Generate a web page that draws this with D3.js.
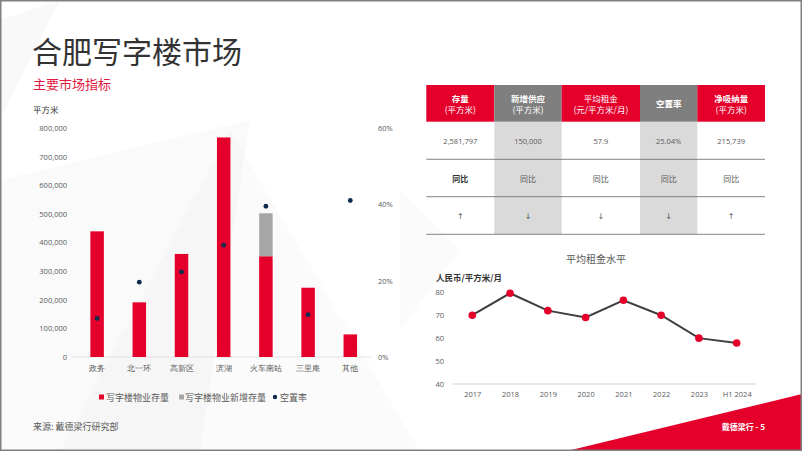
<!DOCTYPE html>
<html><head><meta charset="utf-8">
<script src="https://cdn.jsdelivr.net/npm/d3@7"></script>
<style>
html,body{margin:0;padding:0;background:#fff;}
svg{display:block;font-family:"Noto Sans CJK SC","Noto Sans",sans-serif;}
</style></head>
<body>
<svg id="c" width="802" height="451"></svg>
<script>
// ---- data ----
const districts = ["政务","北一环","高新区","滨湖","火车南站","三里庵","其他"];
const stock = [439000,191000,360000,767000,352000,242000,79000];
const newStock = [0,0,0,0,150000,0,0];
const vacancy = [0.101,0.196,0.223,0.293,0.395,0.111,0.410];
const leftTicks = [0,100000,200000,300000,400000,500000,600000,700000,800000];
const rightTicks = [0,0.2,0.4,0.6];
const legendLabels = ["写字楼物业存量","写字楼物业新增存量","空置率"];

const tableHeaders = [["存量","(平方米)"],["新增供应","(平方米)"],["平均租金","(元/平方米/月)"],["空置率",""],["净吸纳量","(平方米)"]];
const tableValues = ["2,581,797","150,000","57.9","25.04%","215,739"];
const tableYoY = ["同比","同比","同比","同比","同比"];
const tableArrows = ["↑","↓","↓","↓","↑"];

const years = ["2017","2018","2019","2020","2021","2022","2023","H1 2024"];
const rent = [70,79.6,72,69,76.5,70,60,57.9];
const rentTicks = [40,50,60,70,80];

// ---- drawing ----
const svg = d3.select("#c");
const RED = "#e4002b", GRAY = "#a6a6a6", NAVY = "#0d2b4e", TXT = "#595959";

// faint background shapes
const bg = svg.append("g");
bg.append("polygon").attr("points","0,180 250,120 200,451 0,451").attr("fill","#000").attr("opacity",0.02);
bg.append("polygon").attr("points","60,451 230,130 420,451").attr("fill","#000").attr("opacity",0.015);
bg.append("polygon").attr("points","0,20 60,0 0,120").attr("fill","#000").attr("opacity",0.025);
bg.append("polygon").attr("points","400,190 460,250 400,330").attr("fill","#000").attr("opacity",0.015);

// red corner triangle
svg.append("polygon").attr("points","567,451 802,394 802,451").attr("fill",RED);
svg.append("text").attr("x",765).attr("y",430).attr("text-anchor","end").attr("fill","#fff")
  .attr("font-size",8).attr("font-weight","bold").text("戴德梁行 - 5");

// titles
svg.append("text").attr("x",32).attr("y",63).attr("font-size",30).attr("fill","#333").text("合肥写字楼市场");
svg.append("text").attr("x",33).attr("y",89).attr("font-size",13).attr("fill","#e0163e").text("主要市场指标");
svg.append("text").attr("x",33).attr("y",113).attr("font-size",8.5).attr("fill","#333").text("平方米");
svg.append("text").attr("x",33).attr("y",430).attr("font-size",9).attr("fill",TXT).text("来源: 戴德梁行研究部");

// ---- left bar chart ----
const x = d3.scaleBand().domain(districts).range([76,371.4]).padding(0);
const y = d3.scaleLinear().domain([0,800000]).range([357,128]);
const yr = d3.scaleLinear().domain([0,0.6]).range([357,128]);
const bw = 13.5;

svg.append("line").attr("x1",73).attr("x2",372).attr("y1",y(0)).attr("y2",y(0)).attr("stroke","#e2e2e2").attr("stroke-width",1);

const axL = d3.axisLeft(y).tickValues(leftTicks).tickFormat(d3.format(",")).tickSize(0).tickPadding(0);
const gL = svg.append("g").attr("transform","translate(67,0)").call(axL);
gL.select(".domain").remove();
gL.selectAll("text").attr("font-size",7.5).attr("fill",TXT).attr("font-family","'Open Sans','Noto Sans',sans-serif");

const axR = d3.axisRight(yr).tickValues(rightTicks).tickFormat(d3.format(".0%")).tickSize(0).tickPadding(0);
const gR = svg.append("g").attr("transform","translate(378,0)").call(axR);
gR.select(".domain").remove();
gR.selectAll("text").attr("font-size",7.5).attr("fill",TXT).attr("font-family","'Open Sans','Noto Sans',sans-serif");

const cx = d => x(d) + x.bandwidth()/2;
svg.append("g").selectAll("rect").data(districts).join("rect")
  .attr("x",(d)=>cx(d)-bw/2).attr("width",bw)
  .attr("y",(d,i)=>y(stock[i])).attr("height",(d,i)=>y(0)-y(stock[i])).attr("fill",RED);
svg.append("g").selectAll("rect").data(districts.filter((d,i)=>newStock[i]>0)).join("rect")
  .attr("x",(d)=>cx(d)-bw/2).attr("width",bw)
  .attr("y",(d)=>{const i=districts.indexOf(d);return y(stock[i]+newStock[i]);})
  .attr("height",(d)=>{const i=districts.indexOf(d);return y(stock[i])-y(stock[i]+newStock[i]);})
  .attr("fill",GRAY);
svg.append("g").selectAll("circle").data(districts).join("circle")
  .attr("cx",cx).attr("cy",(d,i)=>yr(vacancy[i])).attr("r",2.4).attr("fill",NAVY);

const axB = d3.axisBottom(x).tickSize(0).tickPadding(0);
const gB = svg.append("g").attr("transform","translate(0,365)").call(axB);
gB.select(".domain").remove();
gB.selectAll("text").attr("font-size",8).attr("fill",TXT);

// legend
const lg = svg.append("g");
lg.append("rect").attr("x",99).attr("y",394.5).attr("width",5).attr("height",5).attr("fill",RED);
lg.append("text").attr("x",106).attr("y",400.5).attr("font-size",9).attr("fill",TXT).text(legendLabels[0]);
lg.append("rect").attr("x",179).attr("y",394.5).attr("width",5).attr("height",5).attr("fill",GRAY);
lg.append("text").attr("x",185).attr("y",400.5).attr("font-size",9).attr("fill",TXT).text(legendLabels[1]);
lg.append("circle").attr("cx",275).attr("cy",397).attr("r",2.2).attr("fill",NAVY);
lg.append("text").attr("x",280).attr("y",400.5).attr("font-size",9).attr("fill",TXT).text(legendLabels[2]);

// ---- table ----
const colEdges = [426.3,494.3,561.7,640,697.3,765];
const tg = svg.append("g");
const hdrTop = 85, hdrBot = 121.7, tblBot = 234.3;
tableHeaders.forEach((h,i)=>{
  const x0 = colEdges[i], x1 = colEdges[i+1], mid=(x0+x1)/2;
  const isGray = i%2===1;
  if (isGray) tg.append("rect").attr("x",x0).attr("y",hdrBot).attr("width",x1-x0).attr("height",tblBot-hdrBot).attr("fill","#dadada");
  tg.append("rect").attr("x",x0).attr("y",hdrTop).attr("width",x1-x0).attr("height",hdrBot-hdrTop).attr("fill",isGray?"#7f7f7f":RED);
  if (h[1]) {
    tg.append("text").attr("x",mid).attr("y",102).attr("text-anchor","middle").attr("font-size",8.5)
      .attr("font-weight",i===2?"normal":"bold").attr("fill","#fff").text(h[0]);
    tg.append("text").attr("x",mid).attr("y",112.5).attr("text-anchor","middle").attr("font-size",8.5).attr("fill","#fff").text(h[1]);
  } else {
    tg.append("text").attr("x",mid).attr("y",107).attr("text-anchor","middle").attr("font-size",8.5)
      .attr("font-weight","bold").attr("fill","#fff").text(h[0]);
  }
  tg.append("text").attr("x",mid).attr("y",144).attr("text-anchor","middle").attr("font-size",7.5).attr("fill",TXT)
    .attr("font-family","'Open Sans','Noto Sans',sans-serif").text(tableValues[i]);
  tg.append("text").attr("x",mid).attr("y",181.5).attr("text-anchor","middle").attr("font-size",8)
    .attr("font-weight",i===0?"bold":"normal").attr("fill",i===0?"#333":TXT).text(tableYoY[i]);
  tg.append("text").attr("x",mid).attr("y",218.5).attr("text-anchor","middle").attr("font-size",8).attr("fill",TXT)
    .attr("font-family","'DejaVu Sans',sans-serif").text(tableArrows[i]);
});
[159.3,196.7,234.3].forEach(yy=>{
  tg.append("line").attr("x1",colEdges[0]).attr("x2",colEdges[5]).attr("y1",yy).attr("y2",yy).attr("stroke","#666").attr("stroke-width",0.8);
});

// ---- line chart ----
const xp = d3.scalePoint().domain(years).range([472.3,736.7]);
const yl = d3.scaleLinear().domain([40,80]).range([384,292.3]);
svg.append("text").attr("x",596).attr("y",263).attr("text-anchor","middle").attr("font-size",10).attr("fill",TXT).text("平均租金水平");
svg.append("text").attr("x",436).attr("y",280.5).attr("font-size",8.5).attr("font-weight","bold").attr("fill","#333").text("人民币/平方米/月");
svg.append("line").attr("x1",453).attr("x2",756).attr("y1",yl(40)).attr("y2",yl(40)).attr("stroke","#d0d0d0").attr("stroke-width",1.2);
const axY = d3.axisLeft(yl).tickValues(rentTicks).tickSize(0).tickPadding(0);
const gY = svg.append("g").attr("transform","translate(444,0)").call(axY);
gY.select(".domain").remove();
gY.selectAll("text").attr("font-size",7.5).attr("fill",TXT).attr("font-family","'Open Sans','Noto Sans',sans-serif");
const axX = d3.axisBottom(xp).tickSize(0).tickPadding(0);
const gX = svg.append("g").attr("transform","translate(0,392)").call(axX);
gX.select(".domain").remove();
gX.selectAll("text").attr("font-size",7.5).attr("fill",TXT).attr("font-family","'Open Sans','Noto Sans',sans-serif");
svg.append("path").datum(rent).attr("fill","none").attr("stroke","#3f3f3f").attr("stroke-width",2)
  .attr("d",d3.line().x((d,i)=>xp(years[i])).y(d=>yl(d)));
svg.append("g").selectAll("circle").data(rent).join("circle")
  .attr("cx",(d,i)=>xp(years[i])).attr("cy",d=>yl(d)).attr("r",3.8).attr("fill",RED);

// frame
svg.append("rect").attr("x",0.75).attr("y",0.75).attr("width",800.5).attr("height",449.5).attr("fill","none").attr("stroke","#808080").attr("stroke-width",1.5);
</script>
</body></html>
